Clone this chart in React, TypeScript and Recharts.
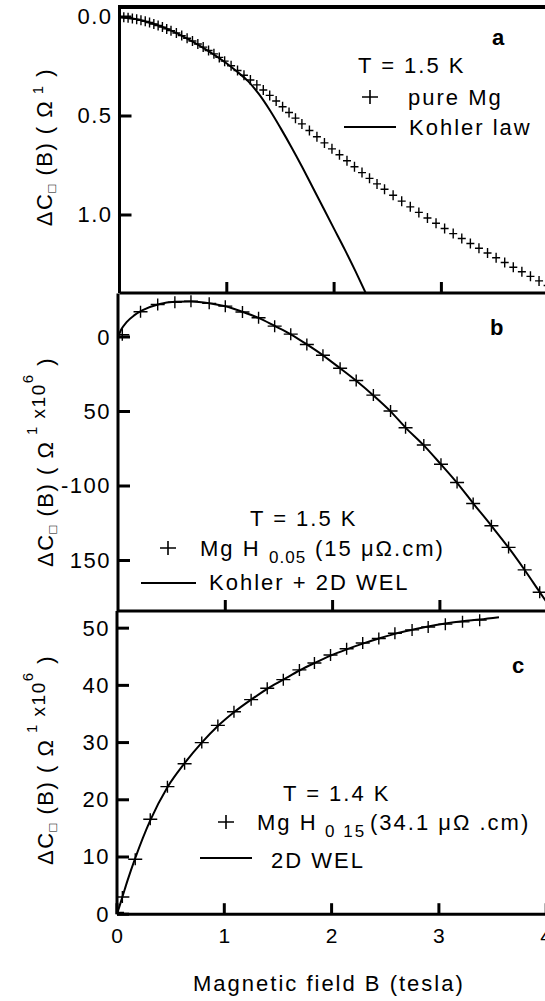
import { ComposedChart, Line, Scatter, XAxis, YAxis } from 'recharts'

const FONT = "'Liberation Sans', Arial, Helvetica, sans-serif"

// panel a: pure Mg, T = 1.5 K
const aField = [0, 0.04, 0.08, 0.12, 0.16, 0.2, 0.24, 0.28, 0.32, 0.36, 0.4, 0.44, 0.48, 0.53, 0.58, 0.63, 0.68, 0.73, 0.78, 0.83, 0.88, 0.93, 0.98, 1.04, 1.1, 1.16, 1.22, 1.28, 1.34, 1.4, 1.46, 1.52, 1.58, 1.64, 1.7, 1.77, 1.84, 1.91, 1.98, 2.05, 2.12, 2.19, 2.26, 2.33, 2.4, 2.47, 2.55, 2.63, 2.71, 2.79, 2.87, 2.95, 3.03, 3.11, 3.19, 3.27, 3.35, 3.43, 3.51, 3.59, 3.67, 3.75, 3.83, 3.91, 3.99, 4.07]
const aPureMg = [0, -0.001, -0.004, -0.008, -0.012, -0.017, -0.022, -0.028, -0.035, -0.043, -0.051, -0.06, -0.069, -0.081, -0.094, -0.107, -0.121, -0.136, -0.152, -0.169, -0.186, -0.204, -0.223, -0.246, -0.27, -0.294, -0.318, -0.343, -0.369, -0.396, -0.424, -0.453, -0.482, -0.511, -0.54, -0.573, -0.605, -0.636, -0.666, -0.696, -0.726, -0.756, -0.786, -0.815, -0.843, -0.87, -0.9, -0.93, -0.959, -0.987, -1.015, -1.042, -1.068, -1.094, -1.119, -1.144, -1.168, -1.192, -1.216, -1.24, -1.264, -1.287, -1.31, -1.333, -1.356, -1.378]
const aKohlerField = [0, 0.2, 0.4, 0.6, 0.8, 1.0, 1.1, 1.2, 1.3, 1.4, 1.5, 1.6, 1.7, 1.8, 1.9, 2.0, 2.1, 2.2, 2.3, 2.4]
const aKohler = [0, -0.016, -0.05, -0.1, -0.162, -0.235, -0.278, -0.325, -0.39, -0.47, -0.56, -0.655, -0.755, -0.86, -0.965, -1.07, -1.175, -1.285, -1.4, -1.52]
const aTicks = [0, -0.5, -1.0]
const aTickLabels = ['0.0', '0.5', '1.0']

// panel b: MgH0.05, T = 1.5 K
const bField = [0.04, 0.21, 0.37, 0.53, 0.68, 0.85, 1.0, 1.16, 1.31, 1.46, 1.61, 1.76, 1.91, 2.07, 2.22, 2.38, 2.54, 2.68, 2.85, 3.01, 3.16, 3.31, 3.48, 3.64, 3.79, 3.93]
const bMgH = [1.5, 17, 21.8, 23.3, 24, 22.6, 20.7, 16.8, 12.9, 7.3, 1.9, -5.0, -12.2, -21.0, -29.2, -39.0, -49.7, -60.9, -72.5, -85.4, -97.7, -111.7, -126.7, -141.2, -156.3, -171.3]
const bFitField = [0, 0.03, 0.08, 0.15, 0.23, 0.38, 0.53, 0.68, 0.85, 1.0, 1.16, 1.31, 1.46, 1.61, 1.76, 1.91, 2.07, 2.22, 2.38, 2.54, 2.68, 2.85, 3.01, 3.16, 3.31, 3.48, 3.64, 3.79, 3.93, 4.1]
const bFit = [0, 5, 10, 14.5, 18, 22, 23.6, 23.8, 22.7, 20.6, 16.9, 12.8, 7.4, 1.8, -5.0, -12.3, -21.0, -29.4, -39.2, -49.9, -60.8, -72.7, -85.5, -97.9, -111.6, -126.7, -141.4, -156.4, -171.2, -189]
const bTicks = [0, -50, -100, -150]
const bTickLabels = ['0', '50', '-100', '150']

// panel c: MgH0.15, T = 1.4 K
const cField = [0.0, 0.05, 0.17, 0.31, 0.47, 0.63, 0.79, 0.94, 1.09, 1.25, 1.4, 1.55, 1.7, 1.84, 1.99, 2.14, 2.29, 2.44, 2.59, 2.75, 2.9, 3.06, 3.22, 3.38]
const cMgH = [0.3, 3.0, 9.6, 16.6, 22.3, 26.3, 30.0, 33.0, 35.4, 37.5, 39.5, 41.0, 42.7, 43.9, 45.3, 46.4, 47.4, 48.2, 49.1, 49.7, 50.2, 50.7, 51.1, 51.4]
const cWelField = [0, 0.02, 0.05, 0.1, 0.17, 0.31, 0.47, 0.63, 0.79, 0.94, 1.09, 1.25, 1.4, 1.55, 1.7, 1.84, 1.99, 2.14, 2.29, 2.44, 2.59, 2.75, 2.9, 3.06, 3.22, 3.38, 3.56]
const cWel = [0, 1.2, 3.0, 6.0, 9.8, 16.4, 22.2, 26.4, 30.0, 32.9, 35.3, 37.5, 39.4, 41.0, 42.6, 43.9, 45.2, 46.3, 47.3, 48.2, 49.0, 49.7, 50.3, 50.8, 51.2, 51.5, 51.9]
const cTicks = [0, 10, 20, 30, 40, 50]

const fieldTicks = [0, 1, 2, 3, 4]

const pairs = (xs: number[], ys: number[]) => xs.map((x, i) => ({ x, y: ys[i] }))

const X_MAX = 4.4
const PX_PER_T = 107.3
const PLOT_W = X_MAX * PX_PER_T
const CHART_W = 640
const Y_AXIS_W = 60
const X_AXIS_H = 30

function Plus({ cx, cy, w, h }: { cx: number; cy: number; w: number; h: number }) {
  return <path d={`M${cx - w},${cy}H${cx + w}M${cx},${cy - h}V${cy + h}`} stroke="#000" strokeWidth={1.4} fill="none" />
}

function makeYTick(ticks: number[], labels: string[]) {
  return (props: any) => {
    const { x, y, payload } = props
    const i = ticks.indexOf(payload.value)
    const label = i >= 0 ? labels[i] : String(payload.value)
    return (
      <g>
        <line x1={x} x2={x + 12} y1={y} y2={y} stroke="#000" strokeWidth={3} />
        <text x={x - 7} y={y} textAnchor="end" dominantBaseline="central" fontSize={22} letterSpacing={1.5} fontFamily={FONT} fill="#000">
          {label}
        </text>
      </g>
    )
  }
}

function makeXTick(showLabel: boolean) {
  return (props: any) => {
    const { x, y, payload } = props
    return (
      <g>
        <line x1={x} x2={x} y1={y} y2={y - 11} stroke="#000" strokeWidth={3} />
        {showLabel && (
          <text x={x} y={y + 21} textAnchor="middle" dominantBaseline="central" fontSize={21} fontFamily={FONT} fill="#000">
            {payload.value}
          </text>
        )}
      </g>
    )
  }
}

interface PanelProps {
  chartTop: number
  height: number
  originX: number
  plotTop: number
  plotBottom: number
  yDomain: [number, number]
  yTicks: number[]
  yLabels: string[]
  points: { x: number; y: number }[]
  fit: { x: number; y: number }[]
  plusW: number
  plusH: number
  xTicks: number[]
  xLabels: boolean
}

function Panel(p: PanelProps) {
  const axisLine = { stroke: '#000', strokeWidth: 3 }
  return (
    <div style={{ position: 'absolute', left: 0, top: p.chartTop }}>
      <ComposedChart
        width={CHART_W}
        height={p.height}
        margin={{
          top: p.plotTop - p.chartTop,
          left: p.originX - Y_AXIS_W,
          right: CHART_W - p.originX - PLOT_W,
          bottom: p.height - (p.plotBottom - p.chartTop) - X_AXIS_H,
        }}
      >
        <XAxis
          dataKey="x"
          type="number"
          domain={[0, X_MAX]}
          ticks={p.xTicks}
          allowDataOverflow
          height={X_AXIS_H}
          tickSize={0}
          tickMargin={0}
          axisLine={axisLine}
          tickLine={false}
          tick={makeXTick(p.xLabels)}
        />
        <YAxis
          dataKey="y"
          type="number"
          domain={p.yDomain}
          ticks={p.yTicks}
          allowDataOverflow
          width={Y_AXIS_W}
          tickSize={0}
          tickMargin={0}
          axisLine={axisLine}
          tickLine={false}
          tick={makeYTick(p.yTicks, p.yLabels)}
        />
        <Line data={p.fit} dataKey="y" type="monotone" stroke="#000" strokeWidth={2} dot={false} isAnimationActive={false} />
        <Scatter
          data={p.points}
          isAnimationActive={false}
          shape={(s: any) => <Plus cx={s.cx} cy={s.cy} w={p.plusW} h={p.plusH} />}
        />
      </ComposedChart>
    </div>
  )
}

const txt = { fontFamily: FONT, fontSize: 22, letterSpacing: 2, fill: '#000' }

function LegendLine({ x1, x2, y }: { x1: number; x2: number; y: number }) {
  return <line x1={x1} x2={x2} y1={y} y2={y} stroke="#000" strokeWidth={2} />
}

function LegendPlus({ x, y }: { x: number; y: number }) {
  return <path d={`M${x - 8},${y}H${x + 8}M${x},${y - 7}V${y + 7}`} stroke="#000" strokeWidth={1.6} fill="none" />
}

export default function App() {
  return (
    <div style={{ position: 'absolute', left: 0, top: 0, width: 545, height: 1001, overflow: 'hidden', background: '#fff' }}>
      <Panel
        chartTop={0}
        height={330}
        originX={119.5}
        plotTop={7}
        plotBottom={293}
        yDomain={[-1.394, 0.0505]}
        yTicks={aTicks}
        yLabels={aTickLabels}
        points={pairs(aField, aPureMg)}
        fit={pairs(aKohlerField, aKohler)}
        plusW={4}
        plusH={5}
        xTicks={[1, 2, 3]}
        xLabels={false}
      />
      <Panel
        chartTop={280}
        height={365}
        originX={118}
        plotTop={293.5}
        plotBottom={611}
        yDomain={[-183.9, 29.2]}
        yTicks={bTicks}
        yLabels={bTickLabels}
        points={pairs(bField, bMgH)}
        fit={pairs(bFitField, bFit)}
        plusW={7}
        plusH={6}
        xTicks={[1, 2, 3]}
        xLabels={false}
      />
      <Panel
        chartTop={600}
        height={401}
        originX={117}
        plotTop={611}
        plotBottom={914.2}
        yDomain={[0, 53]}
        yTicks={cTicks}
        yLabels={cTicks.map(String)}
        points={pairs(cField, cMgH)}
        fit={pairs(cWelField, cWel)}
        plusW={7}
        plusH={6}
        xTicks={fieldTicks}
        xLabels
      />

      <svg width={545} height={1001} style={{ position: 'absolute', left: 0, top: 0, pointerEvents: 'none' }}>
        {/* top frame of panel a */}
        <rect x={118} y={5} width={427} height={4} fill="#000" />

        {/* panel a */}
        <text x={492} y={37} dominantBaseline="central" {...txt} fontWeight="bold">a</text>
        <text x={358} y={65} dominantBaseline="central" {...txt}>T = 1.5 K</text>
        <LegendPlus x={370} y={97} />
        <text x={408} y={97} dominantBaseline="central" {...txt}>pure Mg</text>
        <LegendLine x1={344} x2={396} y={127} />
        <text x={409} y={127} dominantBaseline="central" {...txt}>Kohler law</text>

        {/* panel b */}
        <text x={490} y={327} dominantBaseline="central" {...txt} fontWeight="bold">b</text>
        <text x={250} y={518} dominantBaseline="central" {...txt}>T = 1.5 K</text>
        <LegendPlus x={168} y={548} />
        <text x={200} y={548} dominantBaseline="central" {...txt}>Mg H</text>
        <text x={269} y={557} dominantBaseline="central" {...txt} fontSize={17} letterSpacing={1}>0.05</text>
        <text x={315} y={548} dominantBaseline="central" {...txt}>(15  μΩ.cm)</text>
        <LegendLine x1={141} x2={196} y={583} />
        <text x={209} y={582} dominantBaseline="central" {...txt}>Kohler + 2D WEL</text>

        {/* panel c */}
        <text x={512} y={665} dominantBaseline="central" {...txt} fontWeight="bold">c</text>
        <text x={283} y={793} dominantBaseline="central" {...txt}>T = 1.4 K</text>
        <LegendPlus x={226} y={822} />
        <text x={257} y={822} dominantBaseline="central" {...txt}>Mg H</text>
        <text x={325} y={831} dominantBaseline="central" {...txt} fontSize={17} letterSpacing={2}>0 15</text>
        <text x={370} y={822} dominantBaseline="central" {...txt}>(34.1  μΩ .cm)</text>
        <LegendLine x1={200} x2={252} y={858} />
        <text x={271} y={860} dominantBaseline="central" {...txt}>2D WEL</text>

        {/* axis titles */}
        <text x={193} y={983} dominantBaseline="central" {...txt}>Magnetic field B (tesla)</text>

        <text transform="translate(52,147) rotate(-90)" textAnchor="middle" {...txt} letterSpacing={1.5}>
          <tspan>ΔC</tspan>
          <tspan fontSize={13} dy={4}>□</tspan>
          <tspan dy={-4}> (B) ( Ω</tspan>
          <tspan fontSize={15} dy={-9}> 1</tspan>
          <tspan dy={9}> )</tspan>
        </text>

        <text transform="translate(53,462) rotate(-90)" textAnchor="middle" {...txt} letterSpacing={1.5}>
          <tspan>ΔC</tspan>
          <tspan fontSize={13} dy={4}>□</tspan>
          <tspan dy={-4}> (B) ( Ω</tspan>
          <tspan fontSize={15} dy={-16}> 1</tspan>
          <tspan fontSize={19} dy={8}> x10</tspan>
          <tspan fontSize={15} dy={-12}>6</tspan>
          <tspan dy={20}> )</tspan>
        </text>

        <text transform="translate(53,760) rotate(-90)" textAnchor="middle" {...txt} letterSpacing={1.5}>
          <tspan>ΔC</tspan>
          <tspan fontSize={13} dy={4}>□</tspan>
          <tspan dy={-4}> (B) ( Ω</tspan>
          <tspan fontSize={15} dy={-16}> 1</tspan>
          <tspan fontSize={19} dy={8}> x10</tspan>
          <tspan fontSize={15} dy={-12}>6</tspan>
          <tspan dy={20}> )</tspan>
        </text>
      </svg>
    </div>
  )
}
